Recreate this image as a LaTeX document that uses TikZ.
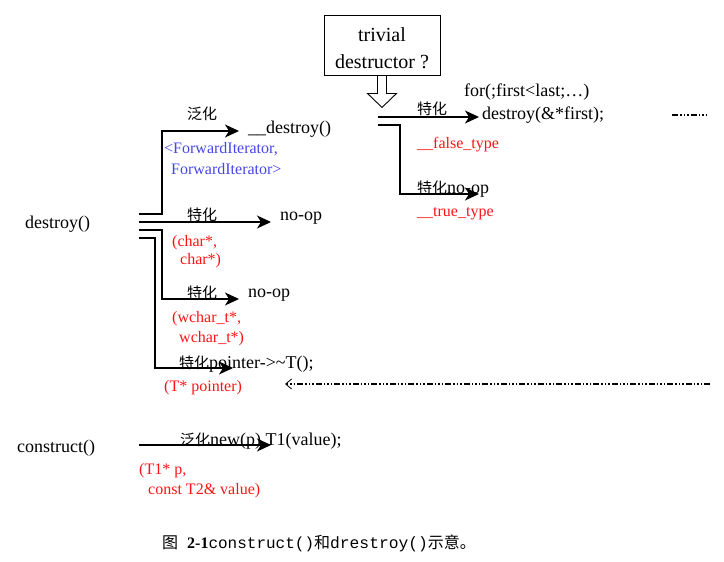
\documentclass[tikz,border=0pt]{standalone}
\usepackage{fontspec}
\setmainfont{Liberation Serif}
\setmonofont{Liberation Mono}
\newfontfamily\cjk{Noto Sans CJK SC}
\usetikzlibrary{arrows.meta}
\definecolor{lblue}{RGB}{70,70,235}
\definecolor{lred}{RGB}{255,20,20}
\newcommand{\zh}[1]{{\cjk\fontsize{15}{18}\selectfont #1}}
\newcommand{\zhc}[1]{{\cjk\fontsize{16}{18}\selectfont #1}}
\begin{document}
\begin{tikzpicture}[x=1pt,y=-1pt,
  base/.style={anchor=west,inner sep=0pt,yshift=-2pt},
  lbl/.style={base,font=\fontsize{18}{22}\selectfont},
  sm/.style={base,font=\fontsize{16}{20}\selectfont},
  rd/.style={sm,text=lred},
  bl/.style={sm,text=lblue},
  arr/.style={line width=1.1pt,-{Stealth[length=14pt,width=13pt,inset=4pt]}},
  ddot/.style={line width=1.3pt,dash pattern=on 6pt off 2pt on 1.5pt off 2pt on 1.5pt off 2pt on 1.5pt off 2pt}]
\useasboundingbox (0,0) rectangle (724,562);

% left texts
\node[lbl] (destroy) at (25,222) {destroy()};
\node[lbl] (construct) at (17,446) {construct()};

\node[base] (g1) at (187,112) {\zh{泛化}};
\node[lbl] (gdes) at (248,127) {\_\_destroy()};
\node[bl] (fi1) at (164,147) {<ForwardIterator,};
\node[bl] (fi2) at (171,167) {ForwardIterator>};

\node[base] (t2) at (187,213) {\zh{特化}};
\node[lbl] (nop2) at (280,216) {no-op};
\node[rd] (ch1) at (172,241) {(char*,};
\node[rd] (ch2) at (180,259) {char*)};

\node[base] (t3) at (187,291) {\zh{特化}};
\node[lbl] (nop3) at (248,293) {no-op};
\node[rd] (wc1) at (172,317) {(wchar\_t*,};
\node[rd] (wc2) at (179,337) {wchar\_t*)};

\node[lbl] (ptr) at (179,362) {\zh{特化}pointer->\textasciitilde T();};
\node[rd] (tp) at (164,386) {(T* pointer)};

\node[lbl] (newp) at (180,439) {\zh{泛化}new(p) T1(value);};
\node[rd] (t1p) at (139,469) {(T1* p,};
\node[rd] (t2v) at (148,489) {const T2\& value)};

% right part
\node[draw,line width=0.9pt,minimum width=116pt,minimum height=60pt,align=center,
      inner sep=0pt,font=\fontsize{20}{27}\selectfont] (box) at (382,45)
      {\rule{0pt}{20pt}trivial\\destructor ?};
\node[lbl] (for) at (464,90) {for(;first<last;…)};
\node[lbl] (dfirst) at (482,113) {destroy(\&*first);};
\node[base] (tr1) at (417,107) {\zh{特化}};
\node[rd] (ft) at (417,143) {\_\_false\_type};
\node[lbl] (tnop) at (417,187) {\zh{特化}no-op};
\node[rd] (tt) at (417,212) {\_\_true\_type};

% caption
\node[base] (cap) at (162,541)
  {\zhc{图}\hspace{9pt}{\fontsize{16}{20}\selectfont\bfseries 2-1}{\ttfamily\fontsize{16}{18}\selectfont construct()}\zhc{和}{\ttfamily\fontsize{16.3}{18}\selectfont drestroy()}\zhc{示意。}};

% connector coordinates
\coordinate (d1) at (139,214);
\coordinate (d2) at (139,222);
\coordinate (d3) at (139,230);
\coordinate (d4) at (139,238);
\coordinate (e1) at (239,131);
\coordinate (e2) at (271,222);
\coordinate (e3) at (239,299);
\coordinate (e4) at (233,368);
\coordinate (c0) at (139,445);
\coordinate (c1) at (271,445);
\coordinate (r1) at (378,117);
\coordinate (r1e) at (479,117);
\coordinate (r2) at (378,125);
\coordinate (r2e) at (479,194);
\coordinate (dd1) at (710,384);
\coordinate (dd2) at (285,384);
\coordinate (dt1) at (672,115);
\coordinate (dt2) at (708,115);

\draw[arr] (d1) -- ++(23,0) |- (e1);
\draw[arr] (d2) -- (e2);
\draw[arr] (d3) -- ++(23,0) |- (e3);
\draw[arr] (d4) -- ++(16,0) |- (e4);
\draw[arr] (c0) -- (c1);
\draw[arr] (r1) -- (r1e);
\draw[arr] (r2) -- ++(22,0) |- (r2e);

\draw[line width=0.9pt] (box.south) ++(-4.5,0) -- ++(0,18) -- ++(-10,0) -- ++(14.5,14)
  -- ++(14.5,-14) -- ++(-10,0) -- ++(0,-18);

\draw[ddot,-{Straight Barb[length=6pt,width=10pt,line width=0.8pt]}] (dd1) -- (dd2);
\draw[ddot] (dt1) -- (dt2);
\end{tikzpicture}
\end{document}
